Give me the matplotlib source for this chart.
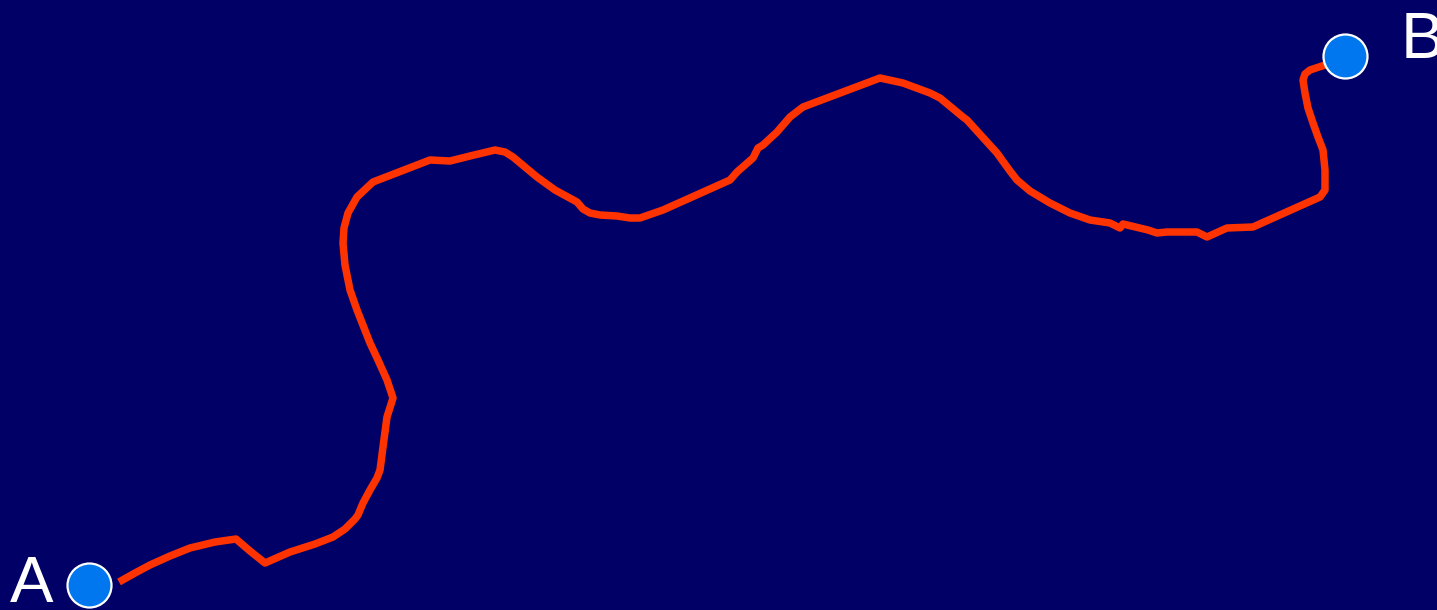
import matplotlib
matplotlib.use("Agg")
import matplotlib.pyplot as plt

# Path (pixel coordinates of the reference image, y downwards)
path_x = [119, 135, 150, 170, 190, 215, 236, 250, 265, 290, 315, 333, 345, 355, 358, 363, 370, 377, 380,
          383, 387, 393,
          387, 378, 370, 357, 350, 345, 343, 344, 348, 357, 373, 430, 450, 470, 495, 505, 513, 525, 537,
          555, 577, 583, 590, 600, 617, 630, 640, 663,
          730, 737, 753, 758, 763, 777, 790, 803, 880, 903, 930, 940, 963, 967, 997, 1002, 1010, 1017,
          1030, 1050, 1070, 1090, 1110, 1120, 1123, 1148, 1157, 1167, 1197, 1207, 1227, 1253, 1320,
          1325, 1325, 1323, 1318, 1313, 1308, 1305, 1303, 1305, 1310, 1325]
path_y = [582, 573, 565, 556, 548, 542, 539, 551, 563, 552, 544, 537, 529, 519, 515, 503, 490, 478, 470,
          447, 417, 398,
          380, 360, 343, 310, 290, 265, 243, 228, 213, 197, 182, 160, 161, 156, 150, 152, 157, 167, 177,
          190, 202, 209, 213, 215, 216, 218, 218, 210,
          180, 172, 158, 148, 145, 132, 117, 107, 78, 83, 93, 98, 117, 120, 153, 160, 171, 180,
          191, 203, 213, 220, 223, 228, 224, 230, 233, 232, 232, 237, 228, 227, 197,
          190, 170, 150, 137, 123, 108, 93, 80, 74, 70, 65]

points_x = [89, 1345]
points_y = [585, 56]
labels = ["A", "B"]
label_x = [10, 1401]
label_y = [602, 58]

fig = plt.figure(figsize=(14.37, 6.10), dpi=100)
fig.patch.set_facecolor("#000066")
ax = fig.add_axes([0, 0, 1, 1])
ax.set_facecolor("#000066")
ax.set_xlim(0, 1437)
ax.set_ylim(610, 0)
ax.axis("off")

ax.plot(path_x, path_y, color="#FF3300", lw=5.4, solid_joinstyle="round", solid_capstyle="butt", zorder=2)
ax.scatter(points_x, points_y, s=(44 * 0.72) ** 2, color="#0077EE", edgecolor="white", linewidth=1.6, zorder=3)
for t, x, y in zip(labels, label_x, label_y):
    ax.text(x, y, t, color="white", fontsize=47, family="Liberation Sans", ha="left", va="baseline", zorder=4)

fig.savefig("out.png", dpi=100, facecolor=fig.get_facecolor())
